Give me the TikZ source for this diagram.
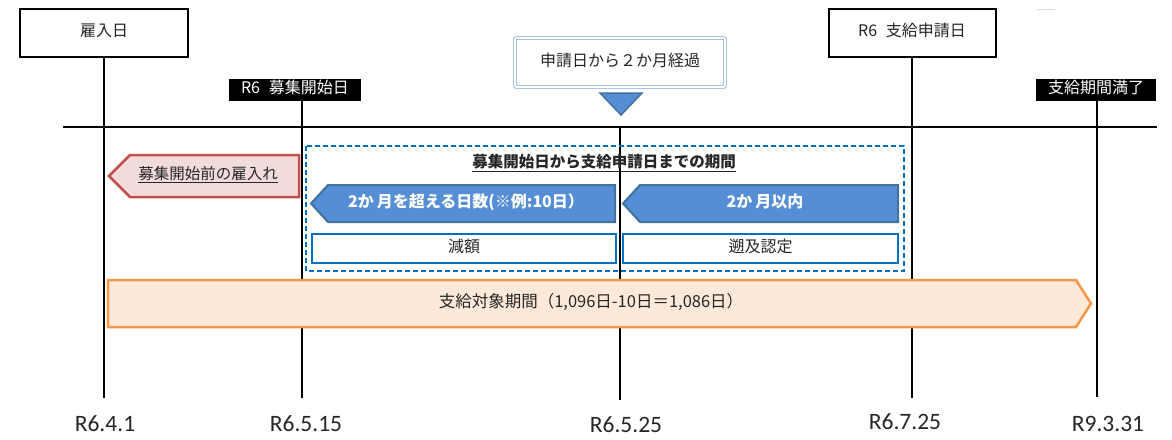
\documentclass[tikz,border=0pt]{standalone}
\usepackage{fontspec}
\setmainfont{Noto Sans CJK JP}
\newfontfamily\datefont{Carlito}
\usetikzlibrary{shadows}
\definecolor{txt}{HTML}{262626}
\definecolor{blfill}{HTML}{558ED5}
\definecolor{bldraw}{HTML}{41719C}
\definecolor{dashblue}{HTML}{0070C0}
\definecolor{lightblue}{HTML}{7FA6D6}
\definecolor{redfill}{HTML}{F2DCDB}
\definecolor{reddraw}{HTML}{C0504D}
\definecolor{orfill}{HTML}{FDE9D9}
\definecolor{ordraw}{HTML}{F79646}
\begin{document}
\begin{tikzpicture}[x=1pt,y=-1pt,
  vline/.style={line width=2pt,black},
  cjk/.style={inner sep=0pt,text height=0.88em,text depth=0.12em,text=txt},
  f16/.style={font=\fontsize{16}{16}\selectfont},
  labelbox/.style={cjk,f16,draw=black,line width=2pt,fill=white,minimum width=167pt,minimum height=48pt,
    drop shadow={shadow xshift=1.2pt,shadow yshift=-1.2pt,fill=black!45,opacity=1}},
  blacklabel/.style={cjk,f16,fill=black,text=white,minimum height=22pt},
  bluearrow/.style={fill=blfill,draw=bldraw,line width=2pt,line join=miter},
  bluetext/.style={cjk,text=white,font=\bfseries\fontsize{16}{16}\selectfont},
  resultbox/.style={cjk,f16,draw=dashblue,line width=2pt,fill=white,minimum height=29pt},
  datelabel/.style={font=\datefont\fontsize{23.5}{24}\selectfont,anchor=base,inner sep=0pt,text=txt}
]
\useasboundingbox (0,0) rectangle (1172,439);

% coordinates
\coordinate (hlL) at (63,127);
\coordinate (hlR) at (1157,127);
\coordinate (b1) at (104,398);
\coordinate (b2) at (302,398);
\coordinate (b3) at (620,400);
\coordinate (b4) at (912,398);
\coordinate (b5) at (1097,397);

% top labels
\node[labelbox,minimum width=168pt] (hire) at (104,33) {雇入日};
\node[labelbox] (apply) at (912,33) {R6\hspace{0.55em}支給申請日};
\node[blacklabel,minimum width=132pt] (recruit) at (295,90) {R6\hspace{0.55em}募集開始日};
\node[blacklabel,minimum width=120pt] (expire) at (1096,90) {支給期間満了};
\draw[black!15,line width=1pt] (1037,9) -- (1055,9);

% two month box and triangle
\node[cjk,f16,draw=lightblue,double=white,line width=0.9pt,double distance=1.6pt,rounded corners=1pt,
  minimum width=210pt,minimum height=49pt] (twomonth) at (620,62.5) {申請日から２か月経過};
\draw[fill=blfill,draw=bldraw,line width=1.5pt,line join=miter] (600,93) -- (642,93) -- (621,115) -- cycle;

% vertical lines and horizontal line
\draw[vline] (hire.south) -- (b1);
\draw[vline] (b2 |- recruit.south) -- (b2);
\draw[vline] (b3 |- hlL) -- (b3);
\draw[vline] (b4 |- apply.south) -- (b4);
\draw[vline] (b5 |- expire.south) -- (b5);
\draw[line width=2.5pt,black] (hlL) -- (hlR);

% dashed period box
\draw[dashblue,line width=1.6pt,dash pattern=on 5pt off 3pt] (306,146) rectangle (904,271);
\node[cjk,font=\bfseries\fontsize{15.5}{16}\selectfont] (title) at (604,164) {\underline{募集開始日から支給申請日までの期間}};

% blue arrows
\draw[bluearrow] (328,185) -- (615,185) -- (615,222) -- (328,222) -- (311,203.5) -- cycle;
\node[bluetext] (over) at (466,203.5) {2か\hspace{0.2em}月を超える日数(※例:10日）};
\draw[bluearrow] (640,185) -- (898,185) -- (898,222) -- (640,222) -- (623,203.5) -- cycle;
\node[bluetext] (within) at (765,203.5) {2か\hspace{0.2em}月以内};

% result boxes
\node[resultbox,minimum width=304pt] (reduce) at (464,248.5) {減額};
\node[resultbox,minimum width=275pt] (retro) at (760.5,248.5) {遡及認定};

% red arrow
\draw[fill=redfill,draw=reddraw,line width=2.5pt,line join=miter] (130,155) -- (299,155) -- (299,197) -- (130,197) -- (109,176) -- cycle;
\node[cjk,font=\fontsize{15.5}{16}\selectfont] (before) at (208,176) {\underline{募集開始前の雇入れ}};

% orange arrow
\draw[fill=orfill,draw=ordraw,line width=2.5pt,line join=miter] (108,280) -- (1076,280) -- (1091,303.5) -- (1076,327) -- (108,327) -- cycle;
\node[cjk,font=\fontsize{16.5}{17}\selectfont] (period) at (591,303.5) {支給対象期間（1,096日-10日＝1,086日）};

% date labels
\node[datelabel] (d1) at (105,431) {R6.4.1};
\node[datelabel] (d2) at (306,431) {R6.5.15};
\node[datelabel] (d3) at (626,432) {R6.5.25};
\node[datelabel] (d4) at (905,429) {R6.7.25};
\node[datelabel] (d5) at (1108,431) {R9.3.31};
\end{tikzpicture}
\end{document}
